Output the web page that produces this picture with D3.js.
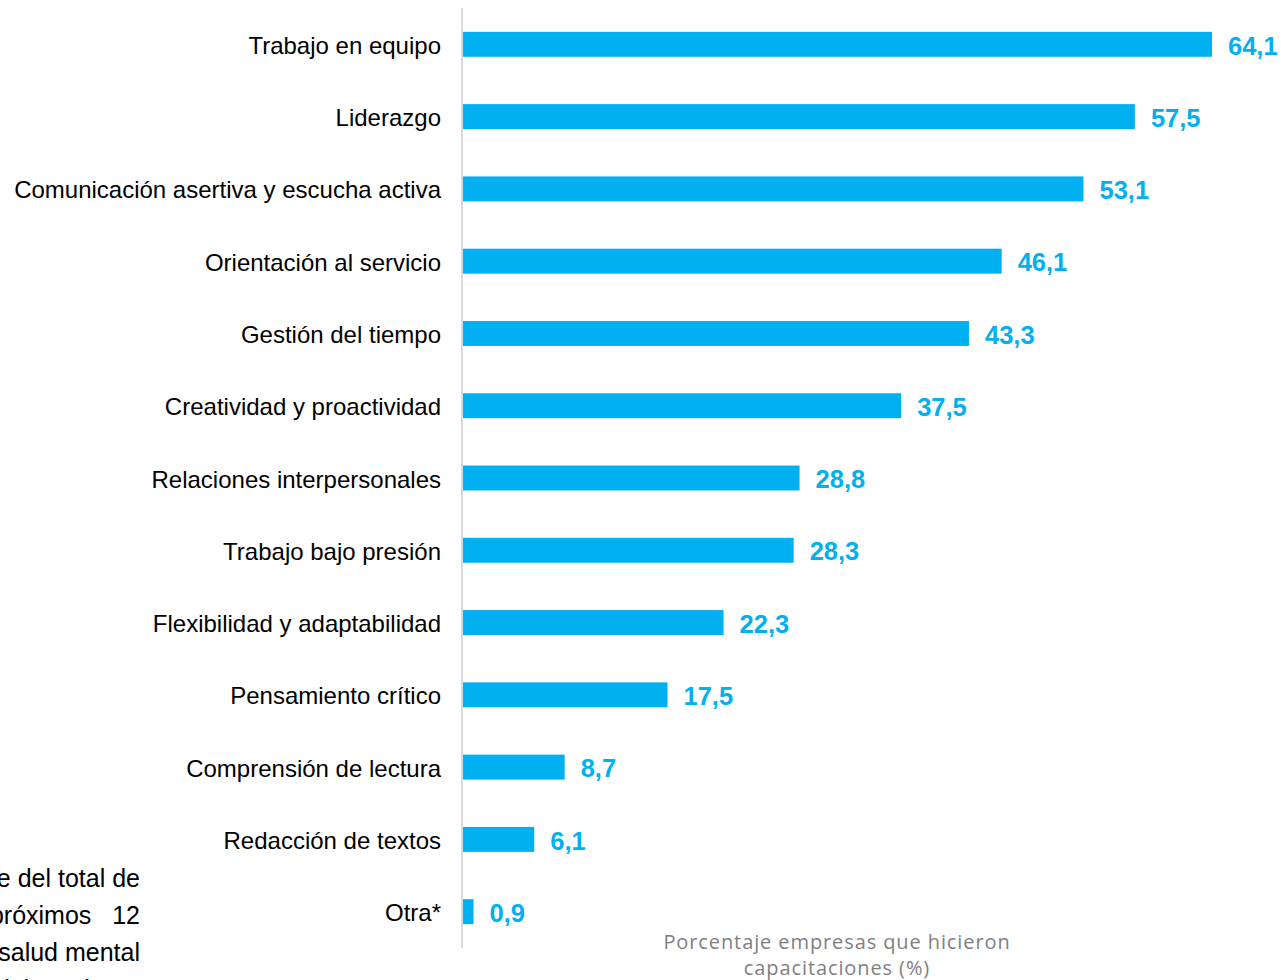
<!DOCTYPE html>
<html>
<head>
<meta charset="utf-8">
<script src="https://cdn.jsdelivr.net/npm/d3@7"></script>
<style>
  body { margin:0; background:#fff; }
  svg { display:block; font-family:"Liberation Sans", Arial, sans-serif; }
</style>
</head>
<body>
<div class="canvas"></div>
<script>
// data
const categories = ['Trabajo en equipo', 'Liderazgo', 'Comunicación asertiva y escucha activa',
  'Orientación al servicio', 'Gestión del tiempo', 'Creatividad y proactividad',
  'Relaciones interpersonales', 'Trabajo bajo presión', 'Flexibilidad y adaptabilidad',
  'Pensamiento crítico', 'Comprensión de lectura', 'Redacción de textos', 'Otra*'];
const values = [64.1, 57.5, 53.1, 46.1, 43.3, 37.5, 28.8, 28.3, 22.3, 17.5, 8.7, 6.1, 0.9];
const axisTitle = ['Porcentaje empresas que hicieron', 'capacitaciones (%)'];
const sideText = ['e del total de', 'próximos   12', 'salud mental', 'del estrés'];

const dims = { width:1281, height:980 };
const blue = '#00B0F0';

const svg = d3.select('.canvas')
.append('svg')
.attr('width', dims.width)
.attr('height', dims.height);

//------------------------scales
const x = d3.scaleLinear()
.domain([0, 64.1])
.range([463, 1212]);

const y = d3.scaleBand()
.domain(categories)
.range([8, 948])
.paddingInner(0.655)
.paddingOuter(0.33);

//------------------------bars
svg.append('g').selectAll('rect')
.data(values)
.enter().append('rect')
.attr('x', x(0))
.attr('y', (d, i) => y(categories[i]))
.attr('width', d => x(d) - x(0))
.attr('height', y.bandwidth())
.attr('fill', blue);

// value labels
svg.append('g').selectAll('text')
.data(values)
.enter().append('text')
.attr('x', d => x(d) + 16)
.attr('y', (d, i) => y(categories[i]) + y.bandwidth()/2 + 1)
.attr('dy', '0.36em')
.attr('fill', blue)
.attr('font-weight', 'bold')
.style('font-size', '25.5px')
.text(d => d3.format('.1f')(d).replace('.', ','));

//------------------------y axis (line + category labels)
const yAxis = svg.append('g')
.attr('transform', `translate(${x(0) - 1},0)`)
.call(d3.axisLeft(y).tickSize(0).tickPadding(21));

yAxis.select('.domain')
.attr('d', 'M0,8V948')
.attr('stroke', '#d9d9d9')
.attr('stroke-width', 2);

yAxis.selectAll('text')
.attr('fill', '#000')
.attr('dy', '0.4em')
.style('font-family', '"Liberation Sans", Arial, sans-serif')
.style('font-size', '24px');

//------------------------axis title
svg.append('text')
.attr('x', 837)
.attr('text-anchor', 'middle')
.attr('fill', '#7f7f7f')
.style('font-family', '"Open Sans", Lato, sans-serif')
.style('font-size', '20px')
.style('letter-spacing', '0.9px')
.selectAll('tspan')
.data(axisTitle)
.enter().append('tspan')
.attr('x', 837)
.attr('y', (d, i) => 949 + i*26)
.text(d => d);

//------------------------cut-off text on the left
svg.append('g').selectAll('text')
.data(sideText)
.enter().append('text')
.attr('x', (d, i) => i < 3 ? 140 : -4)
.attr('y', (d, i) => 887 + i*37)
.attr('text-anchor', (d, i) => i < 3 ? 'end' : 'start')
.attr('fill', '#000')
.style('font-size', '25px')
.style('white-space', 'pre')
.text(d => d);
</script>
</body>
</html>
